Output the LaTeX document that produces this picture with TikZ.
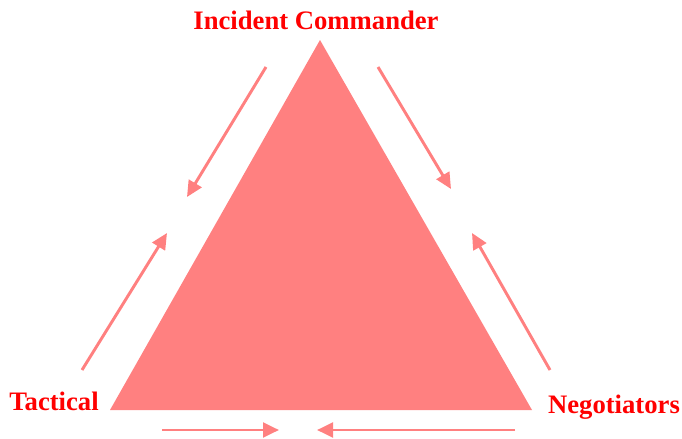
\documentclass[tikz,border=0pt]{standalone}
\usepackage{fontspec}
\setmainfont{Liberation Serif}
\usepackage{xcolor}
\definecolor{triFill}{RGB}{255, 128, 128}
\definecolor{lblRed}{RGB}{255, 0, 0}
\usetikzlibrary{arrows.meta}

\begin{document}
\begin{tikzpicture}[
    x=0.75pt, y=-0.75pt,
    triShape/.style={
        fill=triFill, draw=none
    },
    roleLabel/.style={
        text=lblRed, font=\fontsize{20}{23}\selectfont\bfseries,
        inner sep=0pt, anchor=base
    },
    flowLine/.style={
        -{Triangle[length=12pt,width=11pt]}, line width=2.2pt, draw=triFill
    }
]

    % Canvas
    \useasboundingbox (0,0) rectangle (682,439);

    % Triangle corners
    \coordinate (top) at (320,40);
    \coordinate (left) at (110,410);
    \coordinate (right) at (532,410);
    \fill[triShape] (top) -- (left) -- (right) -- cycle;

    % Role labels
    \node[roleLabel] (cmdr) at (316,29) {Incident Commander};
    \node[roleLabel] (tac) at (54,410) {Tactical};
    \node[roleLabel] (neg) at (614,413) {Negotiators};

    % Arrow end points
    \coordinate (cmdrTacA) at (266,67);
    \coordinate (cmdrTacB) at (187,197);
    \coordinate (tacCmdrA) at (82,370);
    \coordinate (tacCmdrB) at (167,233);
    \coordinate (cmdrNegA) at (378,67);
    \coordinate (cmdrNegB) at (451,189);
    \coordinate (negCmdrA) at (550,370);
    \coordinate (negCmdrB) at (472,233);
    \coordinate (tacNegA) at (162,430);
    \coordinate (tacNegB) at (279,430);
    \coordinate (negTacA) at (515,430);
    \coordinate (negTacB) at (317,430);

    % Flows
    \draw[flowLine] (cmdrTacA) -- (cmdrTacB);
    \draw[flowLine] (tacCmdrA) -- (tacCmdrB);
    \draw[flowLine] (cmdrNegA) -- (cmdrNegB);
    \draw[flowLine] (negCmdrA) -- (negCmdrB);
    \draw[flowLine] (tacNegA) -- (tacNegB);
    \draw[flowLine] (negTacA) -- (negTacB);

\end{tikzpicture}
\end{document}
